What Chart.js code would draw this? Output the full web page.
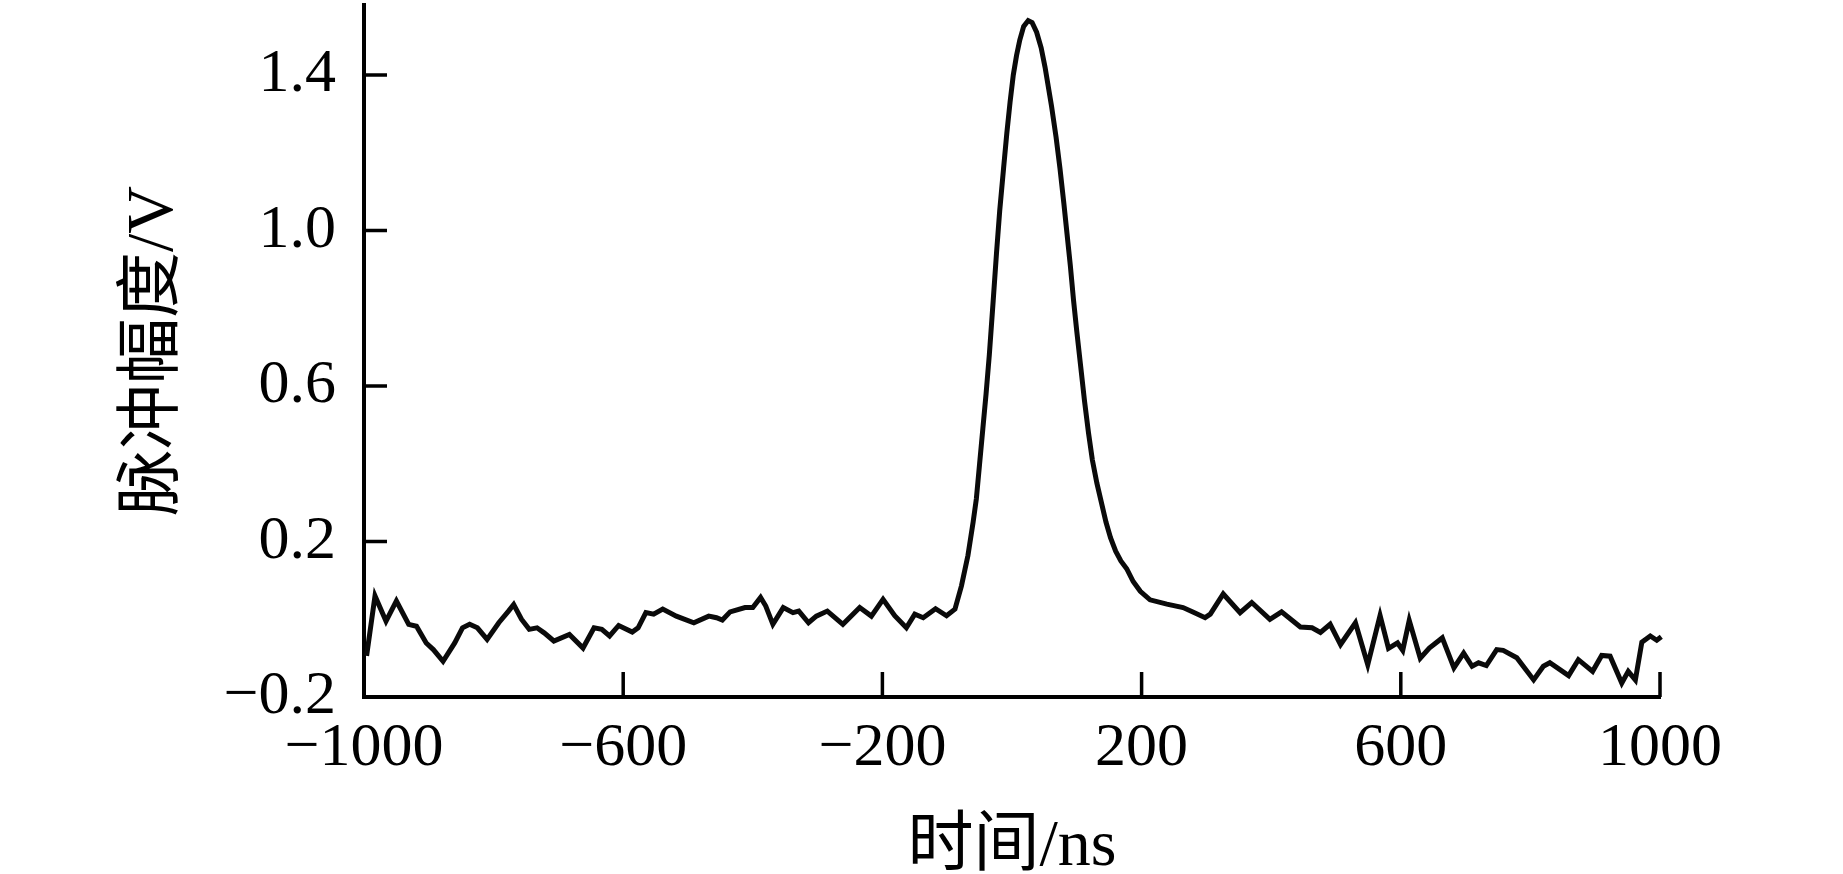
<!DOCTYPE html>
<html>
<head>
<meta charset="utf-8">
<script src="https://cdn.jsdelivr.net/npm/chart.js@4.4.1/dist/chart.umd.min.js"></script>
<style>
  html, body { margin: 0; padding: 0; background: #fff; }
  #wrap { width: 1843px; height: 874px; position: relative; }
</style>
</head>
<body>
<div id="wrap"><canvas id="chart"></canvas></div>
<script>
// time axis (ns) and pulse amplitude (V)
const timeNs = [
  -996, -983, -966, -950, -931, -919, -904, -893, -878, -860,
  -848, -837, -825, -810, -792, -777, -769, -757, -745, -733,
  -722, -707, -683, -662, -645, -633, -621, -607, -586, -577,
  -565, -553, -539, -518, -491, -468, -456, -447, -435, -412,
  -400, -388, -380, -369, -353, -338, -329, -314, -302, -285,
  -261, -235, -217, -199, -181, -163, -150, -137, -118, -101,
  -88, -78, -68, -60, -55, -50, -45, -40, -35, -29,
  -24, -19, -13, -8, -3, 2, 7, 12, 18, 25,
  31, 38, 45, 51, 56, 61, 68, 74, 80, 85,
  90, 95, 100, 106, 112, 118, 124, 131, 138, 145,
  152, 160, 168, 177, 187, 198, 213, 239, 264, 280,
  298, 306, 326, 352, 370, 398, 416, 445, 463, 476,
  491, 507, 530, 549, 568, 581, 595, 603, 613, 630,
  644, 664, 682, 697, 710, 720, 732, 748, 758, 779,
  789, 805, 820, 830, 859, 874, 896, 910, 923, 941,
  951, 962, 972, 985, 995, 1002
];
const amplitudeV = [
  -0.094, 0.060, -0.005, 0.047, -0.013, -0.018, -0.061, -0.078, -0.108, -0.061,
  -0.022, -0.013, -0.022, -0.052, -0.009, 0.021, 0.038, 0.000, -0.026, -0.022,
  -0.035, -0.056, -0.039, -0.074, -0.022, -0.026, -0.043, -0.016, -0.033, -0.022,
  0.017, 0.013, 0.026, 0.008, -0.009, 0.008, 0.004, -0.002, 0.019, 0.030,
  0.030, 0.056, 0.034, -0.013, 0.030, 0.017, 0.021, -0.009, 0.008, 0.021,
  -0.013, 0.030, 0.008, 0.051, 0.009, -0.022, 0.013, 0.004, 0.027, 0.009,
  0.026, 0.086, 0.164, 0.250, 0.31, 0.40, 0.49, 0.58, 0.68, 0.82,
  0.94, 1.05, 1.16, 1.25, 1.33, 1.40, 1.45, 1.49, 1.525, 1.54,
  1.535, 1.51, 1.47, 1.42, 1.37, 1.32, 1.24, 1.16, 1.07, 0.99,
  0.91, 0.82, 0.74, 0.65, 0.56, 0.48, 0.41, 0.35, 0.30, 0.25,
  0.21, 0.175, 0.15, 0.13, 0.097, 0.072, 0.050, 0.039, 0.030, 0.018,
  0.004, 0.013, 0.065, 0.017, 0.043, 0.000, 0.019, -0.020, -0.022, -0.034,
  -0.013, -0.065, -0.009, -0.117, 0.010, -0.075, -0.061, -0.080, -0.003, -0.100,
  -0.074, -0.048, -0.125, -0.087, -0.121, -0.112, -0.119, -0.078, -0.080, -0.099,
  -0.121, -0.156, -0.121, -0.112, -0.145, -0.104, -0.134, -0.093, -0.095, -0.164,
  -0.134, -0.156, -0.059, -0.043, -0.054, -0.045
];

const xTicks = [-1000, -600, -200, 200, 600, 1000];
const yTicks = [-0.2, 0.2, 0.6, 1.0, 1.4];

const xTitle = '时间/ns';
const yTitle = '脉冲幅度/V';

const serif = '"Liberation Serif", "Times New Roman", "Noto Sans CJK SC", serif';
const minus = s => s.replace('-', '\u2212');

// ticks point into the plot, so they are drawn here from the scales
const innerTicks = {
  id: 'innerTicks',
  afterDraw(chart) {
    const { ctx, chartArea, scales } = chart;
    ctx.save();
    ctx.strokeStyle = '#000';
    ctx.lineWidth = 3.5;
    ctx.beginPath();
    scales.x.ticks.forEach(t => {
      const px = scales.x.getPixelForValue(t.value);
      ctx.moveTo(px, chartArea.bottom);
      ctx.lineTo(px, chartArea.bottom - 25);
    });
    scales.y.ticks.forEach(t => {
      const py = scales.y.getPixelForValue(t.value);
      ctx.moveTo(chartArea.left, py);
      ctx.lineTo(chartArea.left + 23, py);
    });
    ctx.stroke();
    ctx.restore();
  }
};

const canvas = document.getElementById('chart');
new Chart(canvas, {
  type: 'line',
  data: {
    datasets: [{
      data: timeNs.map((t, i) => ({ x: t, y: amplitudeV[i] })),
      borderColor: '#0a0a0a',
      borderWidth: 5,
      pointRadius: 0,
      tension: 0,
      clip: false
    }]
  },
  options: {
    responsive: true,
    maintainAspectRatio: false,
    animation: false,
    layout: { padding: { top: 5, right: 183, left: 0, bottom: 0 } },
    plugins: { legend: { display: false }, tooltip: { enabled: false } },
    scales: {
      x: {
        type: 'linear',
        min: -1000,
        max: 1000,
        afterBuildTicks: s => { s.ticks = xTicks.map(v => ({ value: v })); },
        afterFit: s => { s.height = 177; s.paddingLeft = 0; s.paddingRight = 0; },
        grid: { display: false, drawTicks: false },
        border: { display: true, color: '#000', width: 4 },
        ticks: {
          padding: 15,
          color: '#000',
          maxRotation: 0,
          font: { family: serif, size: 62 },
          callback: v => minus(String(v))
        },
        title: {
          display: true,
          text: xTitle,
          color: '#000',
          padding: { top: 0, bottom: -7 },
          font: { family: serif, size: 66, lineHeight: 1 }
        }
      },
      y: {
        min: -0.2,
        max: 1.58,
        afterBuildTicks: s => { s.ticks = yTicks.map(v => ({ value: v })); },
        afterFit: s => { s.width = 364; s.paddingTop = 0; s.paddingBottom = 0; },
        grid: { display: false, drawTicks: false },
        border: { display: true, color: '#000', width: 4 },
        ticks: {
          padding: 28,
          color: '#000',
          font: { family: serif, size: 62 },
          callback: v => minus(v.toFixed(1))
        },
        title: {
          display: true,
          text: yTitle,
          color: '#000',
          padding: { top: 122, bottom: 0 },
          font: { family: serif, size: 66, lineHeight: 1 }
        }
      }
    }
  },
  plugins: [innerTicks]
});
</script>
</body>
</html>
